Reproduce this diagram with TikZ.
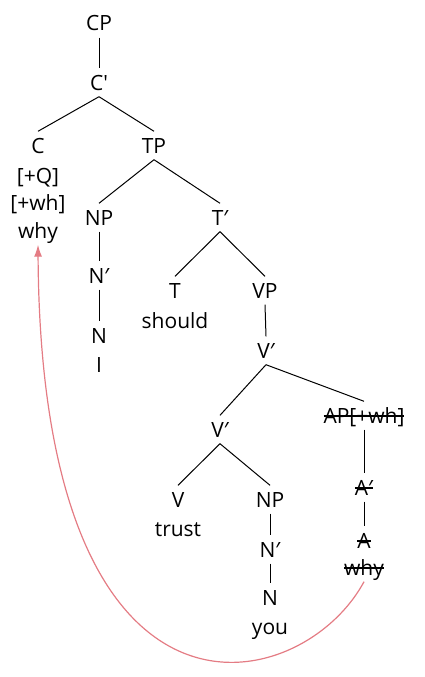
\documentclass[tikz,border=0pt]{standalone}
\usepackage{fontspec}
\setmainfont{Open Sans}
\newfontfamily\primefont{Noto Sans}
\newcommand\pr{{\primefont ′}}
\usetikzlibrary{arrows.meta}
\definecolor{arrowred}{RGB}{228,124,132}
\newcommand\strk[1]{\setbox0\hbox{#1}\rlap{\rule[0.3em]{\wd0}{0.06em}}\box0}
\tikzset{
  lab/.style={font=\fontsize{21}{25}\selectfont, text height=15pt, text depth=0pt,
              inner xsep=1pt, inner ysep=6.5pt, anchor=base},
  edge/.style={line width=1pt, black},
  move/.style={draw=arrowred, line width=1.2pt, -{Latex[length=12pt,width=8pt]}}
}
\begin{document}
\begin{tikzpicture}[x=1pt,y=-1pt]
\useasboundingbox (0,0) rectangle (425,677);
% nodes (x, baseline)
\node[lab] (CP) at (99,31) {CP};
\node[lab] (Cb) at (99,90) {C\textquotesingle};
\node[lab] (C) at (38,153) {C};
\node[lab] (TP) at (154,153) {TP};
\node[lab] (Q) at (38,183) {[+Q]};
\node[lab] (wh) at (38,210) {[+wh]};
\node[lab] (why1) at (38,238) {why};
\node[lab] (NP1) at (99,225) {NP};
\node[lab] (Tb) at (220,225) {T\pr};
\node[lab] (Nb1) at (99,283) {N\pr};
\node[lab] (N1) at (99,343) {N};
\node[lab] (I) at (99,372) {I};
\node[lab] (T) at (175,298) {T};
\node[lab] (VP) at (265,298) {VP};
\node[lab] (should) at (175,328) {should};
\node[lab] (Vb1) at (266,358) {V\pr};
\node[lab] (Vb2) at (220,437) {V\pr};
\node[lab] (AP) at (364,423) {\strk{AP[+wh]}};
\node[lab] (Ab) at (364,495) {\strk{A\pr}};
\node[lab] (A) at (364,548) {\strk{A}};
\node[lab] (why2) at (364,575) {\strk{why}};
\node[lab] (V) at (178,507) {V};
\node[lab] (NP2) at (270,507) {NP};
\node[lab] (trust) at (178,536) {trust};
\node[lab] (Nb2) at (270,557) {N\pr};
\node[lab] (N2) at (270,605) {N};
\node[lab] (you) at (270,634) {you};
% branches
\draw[edge] (CP.south) -- (Cb.north);
\draw[edge] (Cb.south) -- (C.north);
\draw[edge] (Cb.south) -- (TP.north);
\draw[edge] (TP.south) -- (NP1.north);
\draw[edge] (TP.south) -- (Tb.north);
\draw[edge] (NP1.south) -- (Nb1.north);
\draw[edge] (Nb1.south) -- (N1.north);
\draw[edge] (Tb.south) -- (T.north);
\draw[edge] (Tb.south) -- (VP.north);
\draw[edge] (VP.south) -- (Vb1.north);
\draw[edge] (Vb1.south) -- (Vb2.north);
\draw[edge] (Vb1.south) -- (AP.north);
\draw[edge] (AP.south) -- (Ab.north);
\draw[edge] (Ab.south) -- (A.north);
\draw[edge] (Vb2.south) -- (V.north);
\draw[edge] (Vb2.south) -- (NP2.north);
\draw[edge] (NP2.south) -- (Nb2.north);
\draw[edge] (Nb2.south) -- (N2.north);
% movement arrow
\draw[move] (why2.south) .. controls +(-63,117) and +(3,513) .. (why1.south);
\end{tikzpicture}
\end{document}
